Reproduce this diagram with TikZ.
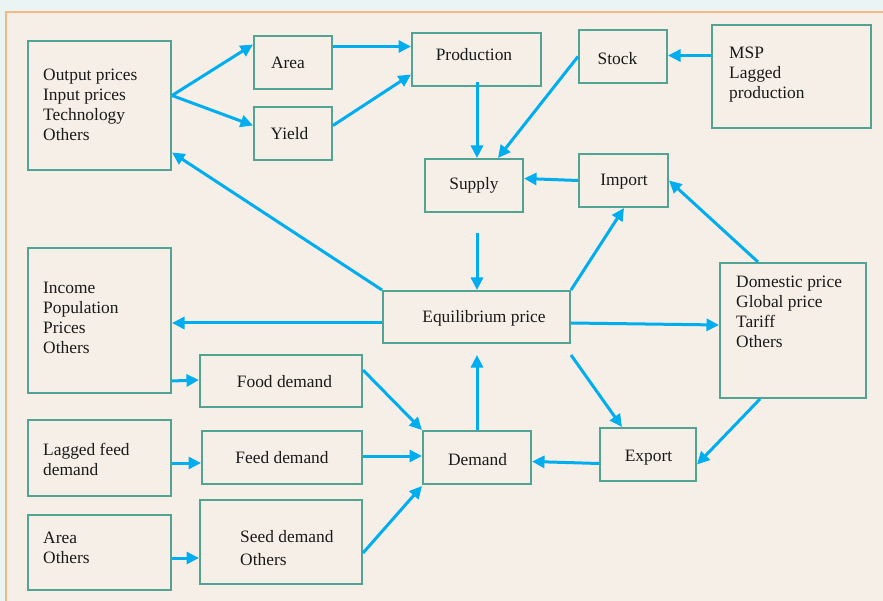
\documentclass[tikz,border=0pt]{standalone}
\usepackage{fontspec}
\setmainfont{Liberation Serif}
\usetikzlibrary{arrows.meta,calc}
\definecolor{bgout}{HTML}{EAF5F3}
\definecolor{panel}{HTML}{F5EFE8}
\definecolor{panelrim}{HTML}{F8B686}
\definecolor{rim}{HTML}{52A393}
\definecolor{flow}{HTML}{00AEEF}
\definecolor{ink}{HTML}{1A1A1A}
\begin{document}
\begin{tikzpicture}[x=1pt,y=-1pt,
  box/.style={draw=rim,line width=2pt,inner sep=0pt,text=ink,font=\fontsize{17.4}{20}\selectfont},
  txt/.style={anchor=west,align=left,inner sep=0pt,text=ink,font=\fontsize{17.4}{20}\selectfont},
  flowarrow/.style={draw=flow,line width=3pt,-{Triangle[length=12.5pt,width=12pt]}}]
\useasboundingbox (0,0) rectangle (883,601);
\fill[bgout] (0,0) rectangle (883,601);
\filldraw[fill=panel,draw=panelrim,line width=1.2pt] (6,12) rectangle (895,615);

% boxes
\node[box,minimum width=143pt,minimum height=129pt] (out) at (99.5,105.5) {};
\node[box,minimum width=78pt,minimum height=53pt] (area) at (293,62.5) {};
\node[box,minimum width=78pt,minimum height=53pt] (yield) at (293,133.5) {};
\node[box,minimum width=129pt,minimum height=53pt] (prod) at (476.5,59.5) {};
\node[box,minimum width=88pt,minimum height=53pt] (stock) at (623,56.5) {};
\node[box,minimum width=159pt,minimum height=103pt] (msp) at (791.5,76.5) {};
\node[box,minimum width=98pt,minimum height=53pt] (supply) at (474,185.5) {Supply};
\node[box,minimum width=89pt,minimum height=53pt] (import) at (623.5,180.5) {};
\node[box,minimum width=187pt,minimum height=52pt] (eq) at (476.5,317) {};
\node[box,minimum width=143pt,minimum height=145pt] (income) at (99.5,320.5) {};
\node[box,minimum width=146pt,minimum height=135pt] (dom) at (793,330.5) {};
\node[box,minimum width=162pt,minimum height=52pt] (food) at (281,381) {};
\node[box,minimum width=143pt,minimum height=76pt] (lagged) at (99.5,458) {};
\node[box,minimum width=160pt,minimum height=53pt] (feed) at (282,457.5) {Feed demand};
\node[box,minimum width=108pt,minimum height=53pt] (demand) at (477,457.5) {};
\node[box,minimum width=96pt,minimum height=53pt] (export) at (648,454.5) {};
\node[box,minimum width=143pt,minimum height=75pt] (areao) at (99.5,552.5) {};
\node[box,minimum width=162pt,minimum height=84pt] (seed) at (281,542) {};

% texts
\node[txt,anchor=center] (areaT) at (288,62.5) {Area};
\node[txt,anchor=center] (yieldT) at (289.5,133.5) {Yield};
\node[txt,anchor=center] (prodT) at (474,55) {Production};
\node[txt,anchor=center] (stockT) at (617.5,59) {Stock};
\node[txt,anchor=center] (importT) at (624,182) {Import};
\node[txt,anchor=center] (eqT) at (484,318) {Equilibrium price};
\node[txt,anchor=center] (foodT) at (284.5,382) {Food demand};
\node[txt,anchor=center] (demandT) at (477.5,460) {Demand};
\node[txt,anchor=center] (exportT) at (648.5,458) {Export};
\node[txt] (outT) at (43,105) {Output prices\\Input prices\\Technology\\Others};
\node[txt] (mspT) at (729,75) {MSP\\Lagged\\production};
\node[txt] (incomeT) at (43,318) {Income\\Population\\Prices\\Others};
\node[txt] (domT) at (736,312) {Domestic price\\Global price\\Tariff\\Others};
\node[txt] (laggedT) at (43,459) {Lagged feed\\demand};
\node[txt] (areaoT) at (43,548) {Area\\Others};
\node[txt,font=\fontsize{17.4}{23}\selectfont] (seedT) at (240,548.5) {Seed demand\\Others};

% connectors
\draw[flowarrow] ($(out.east)+(0,-10)$) -- ($(area.west)+(0,-18)$);
\draw[flowarrow] ($(out.east)+(0,-10)$) -- ($(yield.west)+(0,-8)$);
\draw[flowarrow] ($(area.east)+(0,-16)$) -- ($(prod.west)+(0,-13)$);
\draw[flowarrow] ($(yield.east)+(0,-8)$) -- ($(prod.west)+(0,15)$);
\draw[flowarrow] ($(prod.south)+(0.5,-5)$) -- ($(supply.north)+(3,0)$);
\draw[flowarrow] (stock.west) -- ($(supply.north)+(24,0)$);
\draw[flowarrow] (import.west) -- ($(supply.east)+(0,-7)$);
\draw[flowarrow] ($(msp.west)+(0,-21)$) -- ($(stock.east)+(0,-1)$);
\draw[flowarrow] (eq.north west) -- ($(out.east)+(0,47)$);
\draw[flowarrow] ($(supply.south)+(3,20)$) -- ($(eq.north)+(0.5,0)$);
\draw[flowarrow] (eq.north east) -- ($(import.south)+(0.5,0)$);
\draw[flowarrow] ($(eq.west)+(0,6)$) -- ($(income.east)+(0,2.5)$);
\draw[flowarrow] ($(eq.east)+(0,6)$) -- ($(dom.west)+(0,-5.5)$);
\draw[flowarrow] ($(dom.north)+(-35,0)$) -- (import.east);
\draw[flowarrow] ($(dom.south)+(-33,0)$) -- ($(export.east)+(0,10)$);
\draw[flowarrow] ($(eq.south east)+(0,11)$) -- ($(export.north)+(-26,0)$);
\draw[flowarrow] ($(export.west)+(0,9)$) -- ($(demand.east)+(0,4)$);
\draw[flowarrow] (demand.north) -- ($(eq.south)+(0.5,11)$);
\draw[flowarrow] ($(food.east)+(0,-11)$) -- (demand.north west);
\draw[flowarrow] ($(feed.east)+(0,-1.5)$) -- ($(demand.west)+(0,-1.5)$);
\draw[flowarrow] ($(seed.east)+(0,11)$) -- ($(demand.south west)+(0,1)$);
\draw[flowarrow] ($(income.south east)+(0,-13)$) -- ($(food.west)+(0,-1)$);
\draw[flowarrow] ($(lagged.east)+(0,5)$) -- ($(feed.west)+(0,5.5)$);
\draw[flowarrow] ($(areao.east)+(0,5.5)$) -- ($(seed.west)+(0,16)$);
\end{tikzpicture}
\end{document}
